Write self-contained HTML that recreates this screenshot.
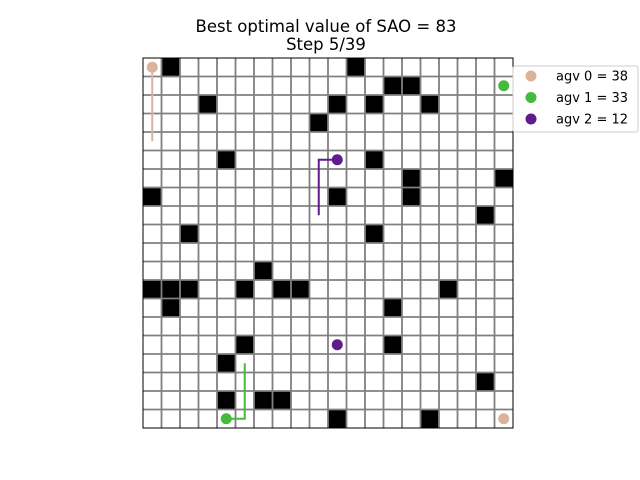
<!DOCTYPE html>
<html><head><meta charset="utf-8"><style>
html,body{margin:0;padding:0;background:#fff;width:640px;height:480px;overflow:hidden}
svg text{font-family:"DejaVu Sans","Liberation Sans",sans-serif}
</style></head><body>
<svg id="chart" width="640" height="480">
<text x="326" y="32" font-size="16.5" text-anchor="middle">Best optimal value of SAO = 83</text>
<text x="326" y="50" font-size="16.5" text-anchor="middle">Step 5/39</text>
<g id="cells"></g><g id="lines"></g><g id="paths"></g><g id="dots"></g>
<g>
<rect x="513" y="66" width="125" height="66" rx="2" fill="#fff" stroke="#ccc"/>
<g id="legend"></g>
</g>
</svg>
<script>
const N = 20;
const obstacles = [[0,1],[0,11],[1,13],[1,14],[2,3],[2,10],[2,12],[2,15],[3,9],[5,4],[5,12],[6,14],[6,19],[7,0],[7,10],[7,14],[8,18],[9,2],[9,12],[11,6],[12,0],[12,1],[12,2],[12,5],[12,7],[12,8],[12,16],[13,1],[13,13],[15,5],[15,13],[16,4],[17,18],[18,4],[18,6],[18,7],[19,10],[19,15]];
const agentNames = ["agv 0 = 38","agv 1 = 33","agv 2 = 12"];
const agentColors = ["#d9b49a","#44bb3a","#5e1c8c"];
const agentPos = [[0,0],[1,19],[5,10]];   // [row,col]
const agentGoal = [[19,19],[19,4],[15,10]];
const agentPaths = [[[0,0],[4,0]],[[19,4],[19,5],[16,5]],[[5,10],[5,9],[8,9]]];
const X0=143,Y0=58,S=18.5;
const cx=c=>X0+(c+0.5)*S, cy=r=>Y0+(r+0.5)*S;
const NS="http://www.w3.org/2000/svg";
function mk(t,a,p){const e=document.createElementNS(NS,t);for(const k in a)e.setAttribute(k,a[k]);p.appendChild(e);return e;}
const cells=document.getElementById('cells');
mk('rect',{x:X0,y:Y0,width:N*S,height:N*S,fill:'#fff'},cells);
obstacles.forEach(([r,c])=>{const e=mk('rect',{x:X0+c*S,y:Y0+r*S,width:S,height:S,fill:'#000'},cells);

});
const lines=document.getElementById('lines');
for(let i=1;i<N;i++){
mk('line',{x1:X0+i*S,y1:Y0,x2:X0+i*S,y2:Y0+N*S,stroke:'#808080','stroke-width':1.8},lines);
mk('line',{x1:X0,y1:Y0+i*S,x2:X0+N*S,y2:Y0+i*S,stroke:'#808080','stroke-width':1.8},lines);}
const b=mk('rect',{x:X0,y:Y0,width:N*S,height:N*S,fill:'none',stroke:'#000','stroke-width':1},lines);


const paths=document.getElementById('paths'),dots=document.getElementById('dots'),leg=document.getElementById('legend');
agentPaths.forEach((p,i)=>{const e=mk('polyline',{points:p.map(([r,c])=>cx(c)+','+cy(r)).join(' '),fill:'none',stroke:agentColors[i],'stroke-width':2},paths);

});
agentPos.forEach(([r,c],i)=>{const e=mk('circle',{cx:cx(c),cy:cy(r),r:5.5,fill:agentColors[i]},dots);

});
agentGoal.forEach(([r,c],i)=>{const e=mk('circle',{cx:cx(c),cy:cy(r),r:5.5,fill:agentColors[i]},dots);

});
agentNames.forEach((n,i)=>{const y=76+i*21.5;
const m=mk('circle',{cx:531,cy:y,r:5.5,fill:agentColors[i]},leg);


const t=mk('text',{x:556,y:y+4.5,'font-size':13},leg);t.textContent=n;

});
</script>
</body></html>
